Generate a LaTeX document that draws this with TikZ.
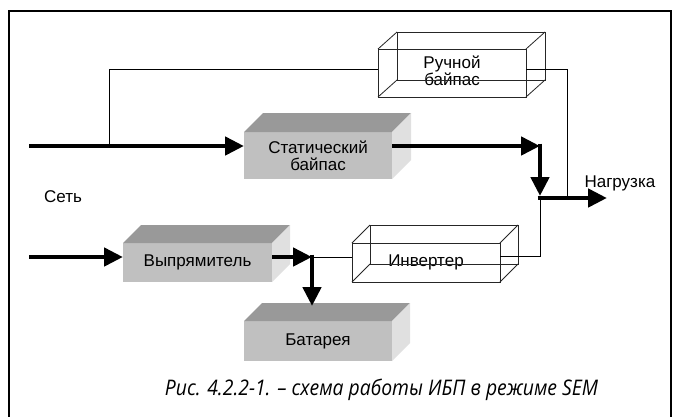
\documentclass[tikz,border=0pt]{standalone}
\usepackage{fontspec}
\setmainfont{Liberation Sans}
\newfontfamily\capfont{Open Sans}
\usetikzlibrary{arrows.meta,calc}
\definecolor{boxfront}{HTML}{C0C0C0}
\definecolor{boxtop}{HTML}{999999}
\definecolor{boxside}{HTML}{E0E0E0}
\newcommand\solidfaces[3]{%
  \fill[boxtop] (#1.north west) -- ++(#2,-#3) -- ($(#1.north east)+(#2,-#3)$) -- (#1.north east) -- cycle;
  \fill[boxside] (#1.north east) -- ++(#2,-#3) -- ($(#1.south east)+(#2,-#3)$) -- (#1.south east) -- cycle;
}
\newcommand\wirefaces[3]{%
  \draw[wire] (#1.north west) rectangle (#1.south east);
  \draw[wire] ($(#1.north west)+(#2,-#3)$) rectangle ($(#1.south east)+(#2,-#3)$);
  \foreach \a in {north west,north east,south west,south east}
    \draw[wire] (#1.\a) -- ++(#2,-#3);
}
\begin{document}
\begin{tikzpicture}[x=1pt,y=-1pt,
  lbl/.style={font=\fontsize{17}{18}\selectfont, align=center, text=black},
  solidbox/.style={lbl, fill=boxfront, inner sep=0pt, outer sep=0pt},
  wirebox/.style={lbl, inner sep=0pt, outer sep=0pt},
  wire/.style={draw=black!85, line width=0.8pt},
  sig/.style={draw=black, line width=0.9pt},
  power/.style={draw=black, line width=4.6pt, -{Triangle[length=19pt,width=18pt]}},
  frame/.style={draw=black, line width=2.3pt}
]
\useasboundingbox (0,0) rectangle (677,416);
\fill[white] (0,0) rectangle (677,416);
% frame
\draw[frame] (9,425) -- (9,11) -- (671,11) -- (671,425);

% boxes
\node[solidbox, minimum width=148, minimum height=47] (stat) at (318,155.5) {Статический\\[-1pt]байпас};
\solidfaces{stat}{19}{19}
\node[wirebox, minimum width=148, minimum height=48] (ruch) at (452,73) {\raisebox{2.5pt}{\begin{tabular}{@{}c@{}}Ручной\\[-1pt]байпас\end{tabular}}};
\node[solidbox, minimum width=149, minimum height=39] (vypr) at (197.5,262.5) {Выпрямитель};
\solidfaces{vypr}{18}{18}
\node[wirebox, minimum width=148, minimum height=39] (inv) at (426,262.5) {Инвертер};
\node[solidbox, minimum width=148, minimum height=40] (bat) at (318,341) {Батарея};
\solidfaces{bat}{18}{18}

\wirefaces{ruch}{19}{17}
\wirefaces{inv}{18}{18}

% labels
\node[lbl] (net) at (63,197) {Сеть};
\node[lbl, anchor=west] (load) at (581,183) {Нагрузка};
\node[font=\capfont\itshape\fontsize{21.5}{24}\selectfont] (cap) at (381.5,390) {\scalebox{0.9}[1]{Рис. 4.2.2-1. – схема работы ИБП в режиме SEM}};

% coordinates
\coordinate (in1) at (29,146);
\coordinate (tap1) at (109,146);
\coordinate (top) at (109,69);
\coordinate (rtop) at (567,69);
\coordinate (c1) at (540,146);
\coordinate (c1t) at (540,196);
\coordinate (jn) at (540,198);
\coordinate (rj) at (567,198);
\coordinate (out) at (607,198);
\coordinate (j3) at (540,256);
\coordinate (in2) at (29,257);
\coordinate (j4) at (312,257);
\coordinate (j4t) at (312,306);

% thin connectors
\draw[sig] (tap1) -- (top) -- (top -| ruch.west);
\draw[sig] (top -| ruch.east) -- (rtop) -- (rj);
\draw[sig] (inv.east |- j3) -- (j3) -- (jn);
\draw[sig] (j4) -- (j4 -| inv.west);

% power connectors
\draw[power] (in1) -- (in1 -| stat.west);
\draw[power] (in1 -| stat.east) -- (c1);
\draw[power, shorten <=-2.3pt] (c1) -- (c1t);
\draw[power, shorten <=-2.3pt] (jn) -- (out);
\draw[power] (in2) -- (in2 -| vypr.west);
\draw[power] (in2 -| vypr.east) -- (j4);
\draw[power, shorten <=-2.3pt] (j4) -- (j4t);
\end{tikzpicture}
\end{document}
